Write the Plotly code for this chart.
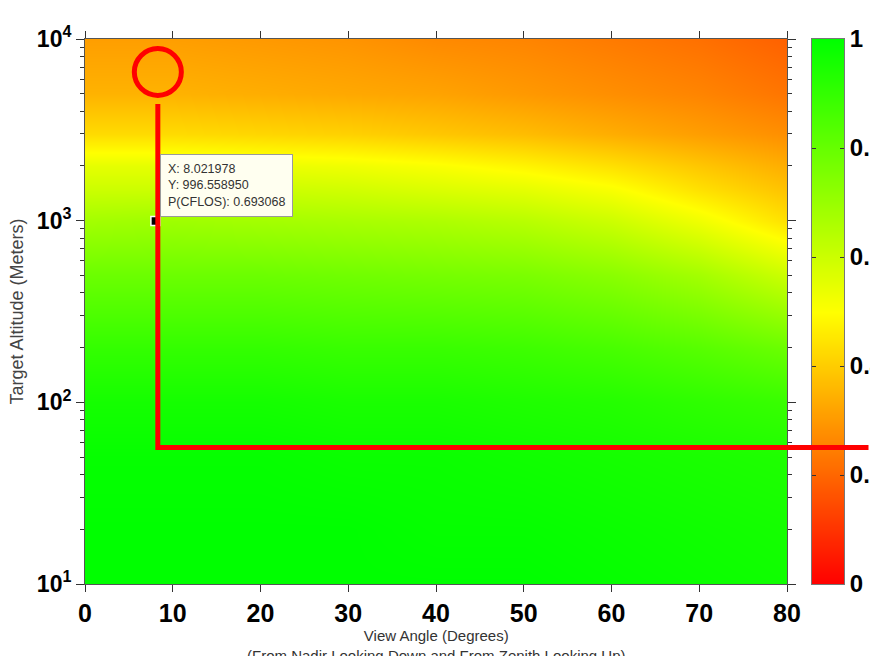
import math
import plotly.graph_objects as go

# Grid of cloud-free line-of-sight probability, P(CFLOS)
view_angle = [0, 10, 20, 30, 40, 50, 60, 70, 80]  # degrees
altitude = [10, 20, 50, 100, 200, 500, 1000, 1500, 2000, 3000, 5000, 10000]  # meters
p_cflos = [
    [1.00, 1.00, 1.00, 1.00, 1.00, 1.00, 0.99, 0.98, 0.97],  # 10 m
    [1.00, 1.00, 1.00, 1.00, 0.99, 0.99, 0.98, 0.97, 0.96],  # 20 m
    [0.99, 0.99, 0.99, 0.98, 0.98, 0.97, 0.96, 0.95, 0.94],  # 50 m
    [0.96, 0.96, 0.96, 0.95, 0.95, 0.94, 0.93, 0.91, 0.89],  # 100 m
    [0.90, 0.90, 0.90, 0.89, 0.89, 0.88, 0.86, 0.83, 0.79],  # 200 m
    [0.79, 0.79, 0.79, 0.78, 0.77, 0.76, 0.73, 0.68, 0.60],  # 500 m
    [0.68, 0.69, 0.68, 0.67, 0.66, 0.64, 0.60, 0.53, 0.44],  # 1000 m
    [0.60, 0.60, 0.60, 0.59, 0.57, 0.55, 0.51, 0.44, 0.38],  # 1500 m
    [0.55, 0.55, 0.54, 0.53, 0.51, 0.48, 0.44, 0.39, 0.34],  # 2000 m
    [0.43, 0.43, 0.42, 0.41, 0.39, 0.37, 0.34, 0.31, 0.28],  # 3000 m
    [0.35, 0.35, 0.34, 0.33, 0.32, 0.30, 0.28, 0.26, 0.23],  # 5000 m
    [0.31, 0.31, 0.30, 0.29, 0.27, 0.26, 0.24, 0.22, 0.19],  # 10000 m
]

x_ticks = [0, 10, 20, 30, 40, 50, 60, 70, 80]
y_ticks = [10, 100, 1000, 10000]
y_ticktext = ["10<sup>1</sup>", "10<sup>2</sup>", "10<sup>3</sup>", "10<sup>4</sup>"]

x_title = "View Angle (Degrees)<br>(From Nadir Looking Down and From Zenith Looking Up)"
y_title = "Target Altitude (Meters)"

# Colour-bar scale levels and labels
scale_levels = [0.0, 0.5, 1.0]
cbar_ticks = [0, 0.2, 0.4, 0.6, 0.8, 1]
cbar_ticktext = ["0", "0.2", "0.4", "0.6", "0.8", "1"]

# Probed point readout
probe_angle = 8.021978
probe_alt = 996.558950
probe_p = 0.693068

# Cursor overlay (angle / altitude markers)
cursor_angle = 8.3
threshold_alt = 56.4
ring_alt = 6580
ring_top_line_alt = 4390

X_MAX = 80
Y_LOG_RANGE = [1, 4]

colorscale = [[0.0, "rgb(255,0,0)"], [0.5, "rgb(255,255,0)"], [1.0, "rgb(0,255,0)"]]
ARIAL = "Liberation Sans, Arial, sans-serif"
red = "rgb(255,0,0)"

# Page geometry: the plotting area spans 785 px to the right of the left margin
W, H = 870, 656
ML, MT, MB = 85, 39, 72
area_w = W - ML
area_h = H - MT - MB
main_dom = [0, 702 / area_w]
bar_dom = [(812 - ML) / area_w, (844 - ML) / area_w]

# Height of the threshold line as a fraction of the plot height (shared by both panels)
threshold_frac = (math.log10(threshold_alt) - Y_LOG_RANGE[0]) / (Y_LOG_RANGE[1] - Y_LOG_RANGE[0])

fig = go.Figure()

fig.add_trace(go.Heatmap(
    x=view_angle, y=altitude, z=p_cflos,
    zmin=0, zmax=1, zsmooth="best",
    colorscale=colorscale, showscale=False,
    hoverinfo="skip",
))

# Colour bar drawn as its own narrow heatmap panel
fig.add_trace(go.Heatmap(
    x=[0], y=scale_levels, z=[[v] for v in scale_levels],
    zmin=0, zmax=1, zsmooth="best",
    colorscale=colorscale, showscale=False,
    xaxis="x2", yaxis="y2", hoverinfo="skip",
))

# Threshold line continuing across the colour bar
fig.add_trace(go.Scatter(
    x=[-0.6, 0.6], y=[threshold_frac, threshold_frac], mode="lines",
    line=dict(color=red, width=5), cliponaxis=False,
    xaxis="x2", yaxis="y2", showlegend=False, hoverinfo="skip",
))

fig.add_trace(go.Scatter(
    x=[probe_angle], y=[probe_alt], mode="markers",
    marker=dict(symbol="square", size=9, color="black",
                line=dict(color="white", width=1.5)),
    showlegend=False, hoverinfo="skip",
))

# Ring marker at the top of the cursor line
ring_dx = 2.68
ring_dlog = 0.129
fig.add_shape(type="circle", xref="x", yref="y",
              x0=cursor_angle - ring_dx, x1=cursor_angle + ring_dx,
              y0=ring_alt / 10 ** ring_dlog, y1=ring_alt * 10 ** ring_dlog,
              line=dict(color=red, width=5), layer="above")
fig.add_shape(type="line", xref="x", yref="y",
              x0=cursor_angle, x1=cursor_angle,
              y0=threshold_alt / 10 ** 0.013, y1=ring_top_line_alt,
              line=dict(color=red, width=5), layer="above")

# Horizontal cursor line, running out to the page edge
fig.add_annotation(
    x=cursor_angle, y=math.log10(threshold_alt), xref="x", yref="y",
    ax=730, ay=0, axref="pixel", ayref="pixel",
    text="", showarrow=True, arrowhead=0, arrowwidth=5, arrowcolor=red,
    standoff=0, startstandoff=0,
)

fig.add_annotation(
    x=probe_angle, y=math.log10(probe_alt), xref="x", yref="y",
    text=f"X: {probe_angle:.6f}<br>Y: {probe_alt:.6f}<br>P(CFLOS): {probe_p:.6f}",
    showarrow=False, xanchor="left", yanchor="bottom", xshift=5, yshift=4,
    align="left", bgcolor="rgb(255,255,240)", bordercolor="#9a9a9a",
    borderwidth=1, borderpad=7,
    font=dict(family=ARIAL, size=12.5, color="#333"),
)

# X-axis title, two lines below the tick labels
fig.add_annotation(
    x=main_dom[1] / 2, y=-(626 - (H - MB)) / area_h, xref="paper", yref="paper",
    text=x_title, showarrow=False, xanchor="center", yanchor="top",
    font=dict(family=ARIAL, size=15, color="#333"), borderpad=0,
)

fig.update_layout(
    width=W, height=H,
    margin=dict(l=ML, r=0, t=MT, b=MB, autoexpand=False),
    paper_bgcolor="white", plot_bgcolor="white",
    showlegend=False,
    xaxis=dict(
        domain=main_dom, range=[0, X_MAX], tickvals=x_ticks,
        ticks="outside", ticklen=7, tickcolor="#333",
        showline=True, linecolor="#555", linewidth=1,
        mirror="ticks", showgrid=False, zeroline=False,
        tickfont=dict(family=ARIAL, size=25, color="black", weight="bold"),
    ),
    yaxis=dict(
        type="log", range=Y_LOG_RANGE, tickvals=y_ticks, ticktext=y_ticktext,
        ticks="outside", ticklen=8, tickcolor="#333",
        showline=True, linecolor="#555", linewidth=1, mirror="ticks",
        showgrid=False, zeroline=False,
        minor=dict(ticks="outside", ticklen=4, tickcolor="#333", showgrid=False,
                   tickvals=[m * 10 ** k for k in range(1, 4) for m in range(2, 10)]),
        tickfont=dict(family=ARIAL, size=23, color="black", weight="bold"),
        title=dict(text=y_title,
                   font=dict(family=ARIAL, size=18, color="#444"), standoff=8),
    ),
    xaxis2=dict(
        domain=bar_dom, anchor="y2", range=[-0.5, 0.5],
        showticklabels=False, ticks="", showgrid=False, zeroline=False,
        showline=True, linecolor="#777", linewidth=1, mirror=True,
    ),
    yaxis2=dict(
        domain=[0, 1], anchor="x2", side="right", range=[0, 1],
        tickvals=cbar_ticks, ticktext=cbar_ticktext,
        ticks="inside", ticklen=4, tickcolor="#333",
        showline=True, linecolor="#777", linewidth=1, mirror="allticks",
        showgrid=False, zeroline=False,
        tickfont=dict(family=ARIAL, size=24, color="black", weight="bold"),
    ),
)

fig.write_html("out.html", config={"displayModeBar": False})
